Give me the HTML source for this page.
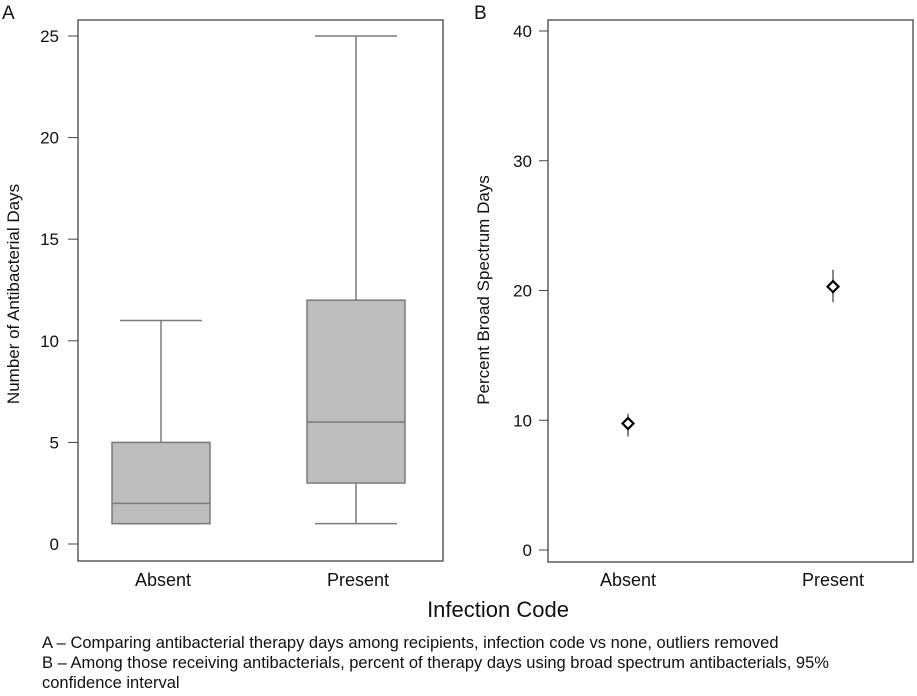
<!DOCTYPE html>
<html><head><meta charset="utf-8"><style>
body{margin:0;background:#fff;}
svg{font-family:"Liberation Sans",Arial,sans-serif;}
</style></head><body>
<svg id="c" width="917" height="691"></svg>
<script>
const categories=["Absent","Present"];
const q1=[1,3], medians=[2,6], q3=[5,12], whiskLo=[1,1], whiskHi=[11,25];
const ticksA=[0,5,10,15,20,25];
const means=[9.75,20.3], ciLo=[8.75,19.1], ciHi=[10.5,21.6];
const ticksB=[0,10,20,30,40];
const NS="http://www.w3.org/2000/svg";
const svg=document.getElementById('c');
function mk(t,a,txt){const e=document.createElementNS(NS,t);for(const k in a)e.setAttribute(k,a[k]);if(txt!==undefined)e.textContent=txt;svg.appendChild(e);return e;}
// Panel A
const yA=v=>544-v*(544-36)/25;
const xA=i=>[161,356][i];
const fa=mk('rect',{x:78,y:20,width:365,height:541,fill:'none',stroke:'#444','stroke-width':1.3});

ticksA.forEach(t=>{
 const l=mk('line',{x1:68,x2:78,y1:yA(t),y2:yA(t),stroke:'#444'});
 
 const tx=mk('text',{x:59,y:yA(t)+6,'text-anchor':'end','font-size':17,fill:'#111'},t);
 
});
categories.forEach((c,i)=>{
 const x=xA(i),w=49;
 const g='#7a7a7a';
 const wl=mk('line',{x1:x,x2:x,y1:yA(whiskHi[i]),y2:yA(q3[i]),stroke:g,'stroke-width':1.5});
 
 const wc=mk('line',{x1:x-41,x2:x+41,y1:yA(whiskHi[i]),y2:yA(whiskHi[i]),stroke:g,'stroke-width':1.5});
 
 const ll=mk('line',{x1:x,x2:x,y1:yA(q1[i]),y2:yA(whiskLo[i]),stroke:g,'stroke-width':1.5});
 
 const lc=mk('line',{x1:x-41,x2:x+41,y1:yA(whiskLo[i]),y2:yA(whiskLo[i]),stroke:g,'stroke-width':1.5});
 
 const b=mk('rect',{x:x-w,y:yA(q3[i]),width:2*w,height:yA(q1[i])-yA(q3[i]),fill:'#bdbdbd',stroke:g,'stroke-width':1.5});
 
 const m=mk('line',{x1:x-w,x2:x+w,y1:yA(medians[i]),y2:yA(medians[i]),stroke:g,'stroke-width':1.5});
 
 const xl=mk('text',{x:x+2,y:586,'text-anchor':'middle','font-size':18,fill:'#111'},c);
 
});
const yta=mk('text',{x:0,y:0,'text-anchor':'middle','font-size':17,fill:'#111',transform:'translate(19,294) rotate(-90)'},'Number of Antibacterial Days');

const pa=mk('text',{x:2,y:19,'font-size':19,fill:'#111'},'A');

// Panel B
const yB=v=>550-v*(550-31)/40;
const xB=i=>[628,833][i];
const fb=mk('rect',{x:548,y:20,width:365,height:542,fill:'none',stroke:'#444','stroke-width':1.3});

ticksB.forEach(t=>{
 const l=mk('line',{x1:539,x2:548,y1:yB(t),y2:yB(t),stroke:'#444'});
 
 const tx=mk('text',{x:532,y:yB(t)+6,'text-anchor':'end','font-size':17,fill:'#111'},t);
 
});
categories.forEach((c,i)=>{
 const x=xB(i),y=yB(means[i]);
 const ci=mk('line',{x1:x,x2:x,y1:yB(ciHi[i]),y2:yB(ciLo[i]),stroke:'#888','stroke-width':2});
 
 const d=mk('polygon',{points:`${x-5.5},${y} ${x},${y-5.5} ${x+5.5},${y} ${x},${y+5.5}`,fill:'#fff',stroke:'#000','stroke-width':2.2});
 
 const xl=mk('text',{x:x,y:586,'text-anchor':'middle','font-size':18,fill:'#111'},c);
 
});
const ytb=mk('text',{x:0,y:0,'text-anchor':'middle','font-size':17,fill:'#111',transform:'translate(489,290) rotate(-90)'},'Percent Broad Spectrum Days');

const pb=mk('text',{x:474,y:19,'font-size':19,fill:'#111'},'B');

const xt=mk('text',{x:498,y:617,'text-anchor':'middle','font-size':22,fill:'#111'},'Infection Code');

const caps=["A – Comparing antibacterial therapy days among recipients, infection code vs none, outliers removed","B – Among those receiving antibacterials, percent of therapy days using broad spectrum antibacterials, 95%","confidence interval"];
caps.forEach((t,i)=>{
 const e=mk('text',{x:42,y:648+i*20,'font-size':16.5,fill:'#111'},t);
 
});
</script>
</body></html>
